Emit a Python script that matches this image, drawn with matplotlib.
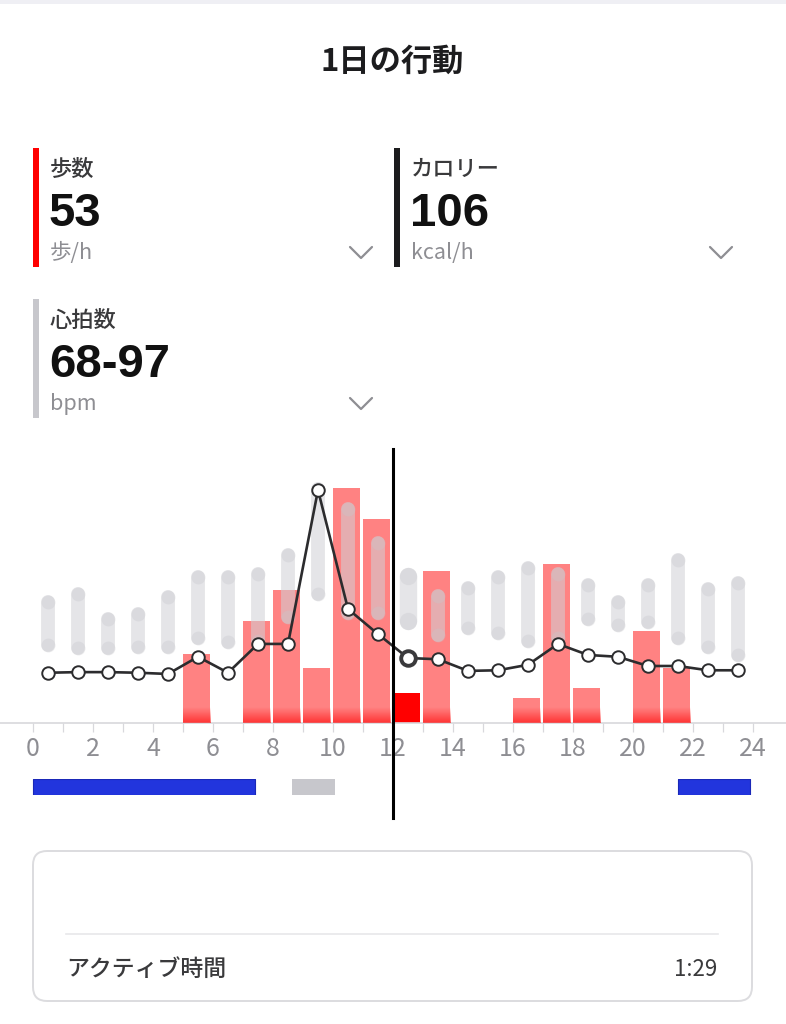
import matplotlib
matplotlib.use("Agg")
import matplotlib.pyplot as plt
import numpy as np
from matplotlib.patches import Rectangle, FancyBboxPatch

plt.rcParams['font.family'] = ['Noto Sans CJK JP', 'DejaVu Sans']

# ======================== データ ========================
hours = np.arange(24)
steps = [0, 0, 0, 0, 0, 122, 0, 180, 235, 97, 415, 360,
         53, 268, 0, 0, 44, 281, 62, 0, 163, 97, 0, 0]
calories = [82, 83, 83, 82, 80, 108, 82, 129, 129, 380, 186, 145,
            106, 104, 85, 86, 95, 129, 111, 108, 93, 93, 86, 86]
hr_low = [52, 50, 50, 51, 51, 57, 54, 55, 70, 85, 73, 73,
          68, 59, 63, 60, 55, 57, 69, 65, 67, 57, 51, 46]
hr_high = [80, 85, 69, 72, 83, 96, 96, 98, 110, 153, 140, 118,
           97, 84, 89, 96, 102, 98, 91, 80, 91, 107, 88, 92]
selected_hour = 12

sleep_blocks = [(0.0, 7.4), (21.5, 2.4)]
nap_blocks = [(8.63, 1.43)]

xticks = list(range(0, 25, 2))

title = "1日の行動"
cards = [
    # (ラベル, 値, 単位)
    ("歩数", "53", "歩/h"),
    ("カロリー", "106", "kcal/h"),
    ("心拍数", "68-97", "bpm"),
]
active_label = "アクティブ時間"
active_value = "1:29"

# ======================== 色 ========================
RED = "#ff0000"
BAR = "#ff8282"
DARK = "#3a3a3c"
GRAY_TXT = "#8e8e93"
LINE = "#2c2c2e"
BLUE = "#2235dd"
NUM_FONT = ["Liberation Sans", "DejaVu Sans"]

W, H = 786, 1024
fig = plt.figure(figsize=(W / 100, H / 100), dpi=100)

# 背景レイヤ（ピクセル座標）
bg = fig.add_axes([0, 0, 1, 1])
bg.set_xlim(0, W)
bg.set_ylim(H, 0)
bg.axis("off")

bg.add_patch(Rectangle((0, 0), W, 4, color="#efeff4", lw=0))
bg.text(392, 62, title, ha="center", va="center", fontsize=22.5,
        fontweight="bold", color="#1c1c1e")

# カード
card_pos = [(33, 148, RED, 361), (394, 148, "#1c1c1e", 721), (33, 299, "#c7c7cc", 361)]
for (label, value, unit), (cx, cy, ccol, chev_x) in zip(cards, card_pos):
    bg.add_patch(Rectangle((cx, cy), 6, 119, color=ccol, lw=0))
    tx = cx + 17
    bg.text(tx, cy + 21, label, ha="left", va="center", fontsize=16,
            fontweight="medium", color=DARK)
    bg.text(tx - 1, cy + 66, value, ha="left", va="center", fontsize=34,
            fontweight="bold", color="#111111", family=NUM_FONT)
    bg.text(tx, cy + 105, unit, ha="left", va="center", fontsize=15.5, color=GRAY_TXT)
    cyv = cy + 105
    bg.plot([chev_x - 11, chev_x, chev_x + 11], [cyv - 6, cyv + 5, cyv - 6],
            color=GRAY_TXT, lw=1.6, solid_capstyle="round")

# アクティブ時間ボックス
bg.add_patch(FancyBboxPatch((33, 851), 719, 150,
                            boxstyle="round,pad=0,rounding_size=14",
                            facecolor="white", edgecolor="#dcdcdf", lw=1.4))
bg.plot([66, 718], [934, 934], color="#e8e8ea", lw=1.2)
bg.text(66, 969, active_label, ha="left", va="center", fontsize=16.5,
        fontweight="medium", color=DARK)
bg.text(717, 969, active_value, ha="right", va="center", fontsize=16, color=DARK)

# ======================== チャート ========================
x0_px, px_per_h = 33, 30
xlim = (-x0_px / px_per_h, (W - x0_px) / px_per_h)
base_y, top_y = 723, 449
ax_rect = [0, 1 - base_y / H, 1, (base_y - top_y) / H]

ax = fig.add_axes(ax_rect)
ax.set_xlim(*xlim)
ax.patch.set_alpha(0)

bar_w = 0.91
bar_colors = [RED if h == selected_hour else BAR for h in hours]
ax.bar(hours, steps, width=bar_w, align="edge", color=bar_colors, lw=0, zorder=2)

# 棒の下端グラデーション
steps_top = 484
ax.set_ylim(0, steps_top)
g_h = 16 * steps_top / (base_y - top_y)
grad = np.zeros((32, 1, 4))
grad[:, 0, 0] = 1.0
grad[:, 0, 3] = np.linspace(0.6, 0.0, 32)
for h, v in zip(hours, steps):
    if v > 0 and h != selected_hour:
        ax.imshow(grad, extent=[h, h + bar_w, 0, min(g_h, v)], origin="lower",
                  aspect="auto", zorder=3, interpolation="bilinear")
ax.set_xlim(*xlim)
ax.set_ylim(0, steps_top)

for s in ["top", "left", "right"]:
    ax.spines[s].set_visible(False)
ax.spines["bottom"].set_color("#d8d8dc")
ax.spines["bottom"].set_linewidth(1.2)
ax.set_yticks([])
ax.set_xticks(xticks)
ax.set_xticks([h for h in range(25) if h % 2], minor=True)
ax.tick_params(axis="x", which="both", length=6.5, width=0.9, color="#d8d8dc",
               labelsize=18, labelcolor=GRAY_TXT, pad=2.5)

# 心拍数（レンジ）
ax_hr = ax.twinx()
ax_hr.set_ylim(2, 178.5)
ax_hr.axis("off")
for h, lo, hi in zip(hours, hr_low, hr_high):
    xc = h + 0.5
    lw = 12.5 if h == selected_hour else 10
    ax_hr.plot([xc, xc], [lo, hi], color="#d1d1d6", alpha=0.55, lw=lw,
               solid_capstyle="round", zorder=2)
    ax_hr.plot([xc, xc], [lo, hi], ls="none", marker="o", ms=lw,
               mfc="#c7c7cc", mec="none", alpha=0.35, zorder=3)

# カロリー（折れ線）
ax_cal = ax.twinx()
ax_cal.set_ylim(0, 447)
ax_cal.set_xlim(*xlim)
ax_cal.axis("off")
ax_cal.plot(hours + 0.5, calories, color=LINE, lw=1.9, marker="o", ms=9,
            mfc="white", mec=LINE, mew=1.4, zorder=4)
ax_cal.plot(selected_hour + 0.5, calories[selected_hour], marker="o", ms=10.5,
            mfc="white", mec="#3a3a3c", mew=2.8, zorder=5)

# 選択中の時刻
ax_cal.axvline(selected_hour, ymin=-(818 - base_y) / (base_y - top_y), ymax=1,
               color="black", lw=2.2, clip_on=False, zorder=6)

# 睡眠帯
ax_sl = fig.add_axes([0, 1 - 795 / H, 1, 16 / H])
ax_sl.set_xlim(*xlim)
ax_sl.set_ylim(0, 1)
ax_sl.axis("off")
ax_sl.broken_barh(sleep_blocks, (0, 1), facecolors=BLUE, edgecolors="#1a28b8", lw=0.8)
ax_sl.broken_barh(nap_blocks, (0, 1), facecolors="#c7c7cc", edgecolors="none")

fig.savefig("out.png", dpi=100)
